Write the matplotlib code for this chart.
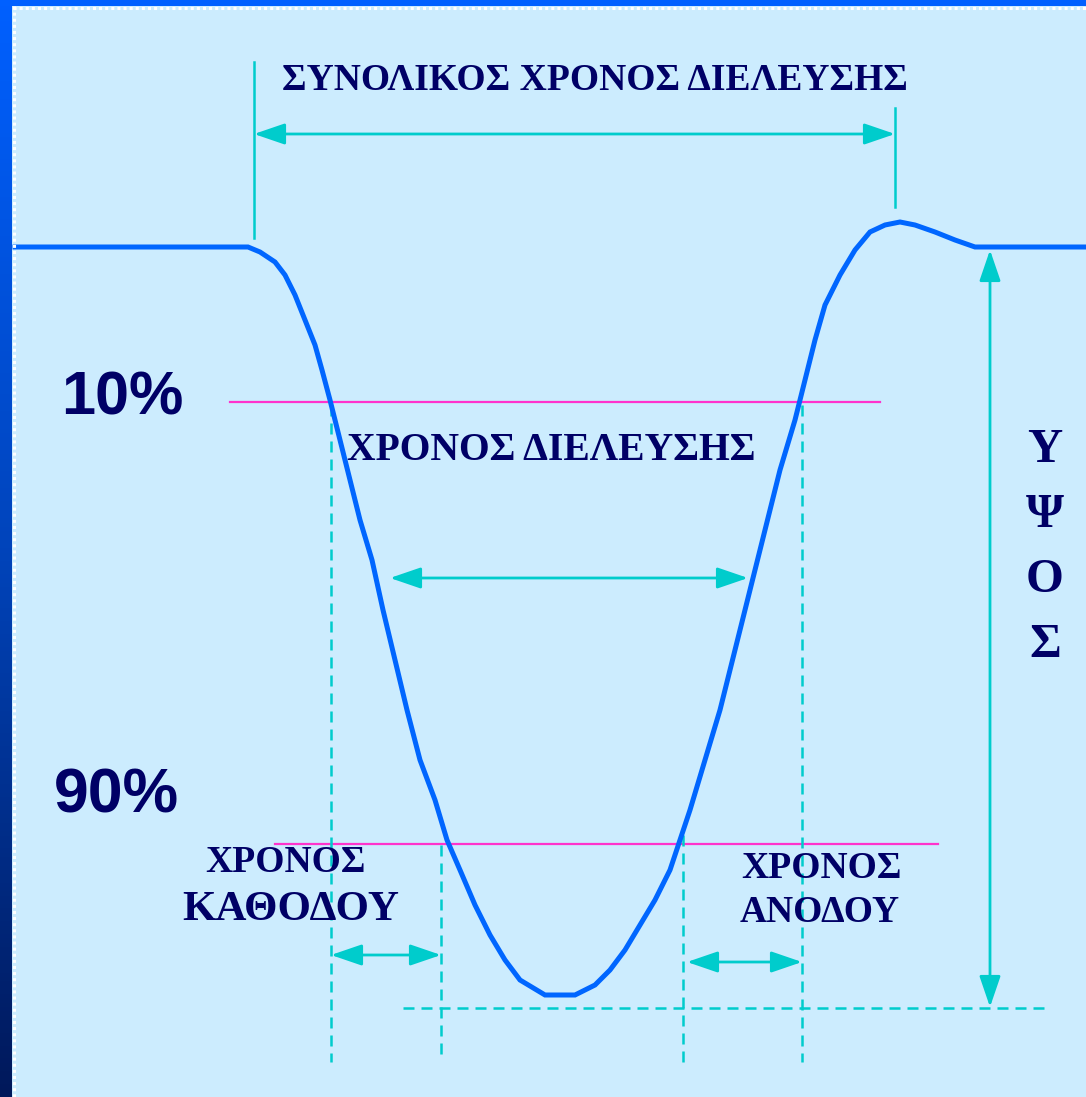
import matplotlib
matplotlib.use("Agg")
import matplotlib.pyplot as plt
import numpy as np
from matplotlib.colors import LinearSegmentedColormap

W, H = 1086, 1097

# Pulse curve (pixel coords)
curve_x = [15, 248, 260, 275, 285, 295, 305, 315, 322, 330, 340, 350, 360, 372, 383,
           395, 407, 420, 435, 447, 460, 475, 490, 505, 520, 545, 575, 595, 610, 625,
           640, 655, 670, 680, 690, 705, 720, 735, 750, 765, 780, 795, 805, 815, 825,
           840, 855, 870, 885, 900, 915, 935, 955, 975, 1086]
curve_y = [247, 247, 252, 262, 275, 295, 320, 345, 370, 400, 440, 480, 520, 560, 610,
           660, 710, 760, 800, 840, 870, 905, 935, 960, 980, 995, 995, 985, 970, 950,
           925, 900, 870, 840, 810, 760, 710, 650, 590, 530, 470, 420, 380, 340, 305,
           275, 250, 232, 225, 222, 225, 232, 240, 247, 247]

level_labels = ["10%", "90%"]
level_y = [402, 844]

BG = "#CCECFE"
NAVY = "#000066"
TEAL = "#00CCCC"
MAG = "#FF33CC"
BLUE = "#0066FF"

fig = plt.figure(figsize=(W / 100, H / 100), dpi=100)
fig.patch.set_facecolor(BG)
ax = fig.add_axes([0, 0, 1, 1])
ax.set_xlim(0, W)
ax.set_ylim(H, 0)
ax.axis("off")
ax.set_facecolor(BG)

# Borders: left gradient strip and top strip
grad = np.linspace(0, 1, 256).reshape(-1, 1)
cmap = LinearSegmentedColormap.from_list("b", ["#0060FF", "#0044BB", "#00185A"])
ax.imshow(grad, cmap=cmap, extent=[0, 12, H, 0], aspect="auto", zorder=5)
ax.add_patch(plt.Rectangle((0, 0), W, 6, color="#0060FF", zorder=5, lw=0))
ax.plot([13.5, 13.5], [6, H], color="white", lw=2.2, ls=(0, (1, 1)), zorder=6)
ax.plot([13, W], [7.5, 7.5], color="white", lw=2.2, ls=(0, (1, 1)), zorder=6)

# Curve
ax.plot(curve_x, curve_y, color=BLUE, lw=3.6, solid_joinstyle="miter", zorder=3)

# Magenta level lines
ax.plot([230, 880], [level_y[0], level_y[0]], color=MAG, lw=1.6, zorder=2)
ax.plot([275, 938], [level_y[1], level_y[1]], color=MAG, lw=1.6, zorder=2)

# Dashed guides
dash = (0, (4.4, 2.8))
for x, y0, y1 in [(331, 405, 1062), (441, 845, 1055), (683, 835, 1062), (802, 405, 1062)]:
    ax.plot([x, x], [y0, y1], color=TEAL, lw=1.8, ls=dash, zorder=2)
ax.plot([403, 1048], [1008, 1008], color=TEAL, lw=1.8, ls=dash, zorder=2)

# Solid verticals
ax.plot([254, 254], [62, 238], color=TEAL, lw=1.8, zorder=2)
ax.plot([895, 895], [108, 207], color=TEAL, lw=1.8, zorder=2)


def darrow(x0, y0, x1, y1):
    ax.annotate("", xy=(x1, y1), xytext=(x0, y0),
                arrowprops=dict(arrowstyle="<|-|>,head_length=1.9,head_width=0.65",
                                color=TEAL, lw=2, shrinkA=0, shrinkB=0), zorder=4)


darrow(254, 134, 895, 134)
darrow(390, 578, 748, 578)
darrow(331, 955, 441, 955)
darrow(687, 962, 802, 962)
darrow(990, 1007, 990, 250)

serif = dict(family="Liberation Serif", weight="bold", color=NAVY)
ax.text(595, 80, "ΣΥΝΟΛΙΚΟΣ ΧΡΟΝΟΣ ΔΙΕΛΕΥΣΗΣ", fontsize=27, ha="center", va="center", **serif)
ax.text(551, 450, "ΧΡΟΝΟΣ ΔΙΕΛΕΥΣΗΣ", fontsize=28.5, ha="center", va="center", **serif)
ax.text(286, 862, "ΧΡΟΝΟΣ", fontsize=27, ha="center", va="center", **serif)
ax.text(291, 910, "ΚΑΘΟΔΟΥ", fontsize=31, ha="center", va="center", **serif)
ax.text(821, 868, "ΧΡΟΝΟΣ", fontsize=27, ha="center", va="center", **serif)
ax.text(820, 913, "ΑΝΟΔΟΥ", fontsize=27, ha="center", va="center", **serif)
for ch, y in zip("ΥΨΟΣ", [450, 515, 580, 645]):
    ax.text(1045, y, ch, fontsize=35, ha="center", va="center", **serif)

sans = dict(family="Liberation Sans", weight="bold", color=NAVY)
ax.text(122, 399, level_labels[0], fontsize=44, ha="center", va="center", **sans)
ax.text(116, 796, level_labels[1], fontsize=45, ha="center", va="center", **sans)

fig.savefig("out.png", dpi=100, facecolor=BG)
